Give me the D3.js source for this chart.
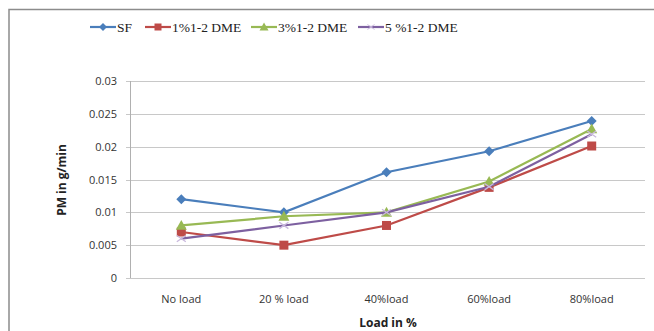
<!DOCTYPE html>
<html>
<head>
<meta charset="utf-8">
<script src="https://cdn.jsdelivr.net/npm/d3@7"></script>
<style>
  body { margin: 0; background: #fff; }
  svg { display: block; }
</style>
</head>
<body>
<div id="chart"></div>
<script>
'use strict';

var categories = ['No load', '20 % load', '40%load', '60%load', '80%load'];
var seriesNames = ['SF', '1%1-2 DME', '3%1-2 DME', '5 %1-2 DME'];
var sf    = [0.012, 0.010, 0.0161, 0.0193, 0.0239];
var dme1  = [0.007, 0.005, 0.008, 0.0138, 0.0201];
var dme3  = [0.008, 0.0094, 0.010, 0.0147, 0.0227];
var dme5  = [0.006, 0.008, 0.010, 0.0139, 0.0219];
var yTicks = [0, 0.005, 0.01, 0.015, 0.02, 0.025, 0.03];

var colors = ['#4a7ebb', '#be4b48', '#98b954', '#7d60a0'];
var shapes = ['diamond', 'square', 'triangle', 'cross'];
var series = [sf, dme1, dme3, dme5].map(function (v, i) {
  return { name: seriesNames[i], values: v, color: colors[i], shape: shapes[i] };
});

var width = 654, height = 331;
var plot = { left: 130, right: 643, top: 81, bottom: 278 };

var svg = d3.select('#chart').append('svg')
    .attr('width', width)
    .attr('height', height);

// outer chart border
svg.append('path')
    .attr('d', 'M9,' + height + ' V9.5 H' + width)
    .attr('fill', 'none')
    .attr('stroke', '#8c8c8c')
    .attr('stroke-width', 1.5);

var x = d3.scaleBand().domain(categories).range([plot.left, plot.right]);
var y = d3.scaleLinear().domain([0, 0.03]).range([plot.bottom, plot.top]);
var cx = function (c) { return x(c) + x.bandwidth() / 2; };

// gridlines
svg.append('g')
    .selectAll('line')
    .data(yTicks)
    .enter()
    .append('line')
    .attr('x1', plot.left - 4)
    .attr('x2', plot.right + 2)
    .attr('y1', function (d) { return Math.round(y(d)) + 0.5; })
    .attr('y2', function (d) { return Math.round(y(d)) + 0.5; })
    .attr('stroke', '#c8c8c8')
    .attr('stroke-width', 1.2);

// y axis line
svg.append('line')
    .attr('x1', plot.left + 0.5).attr('x2', plot.left + 0.5)
    .attr('y1', plot.top).attr('y2', plot.bottom)
    .attr('stroke', '#b0b0b0');

var tickFont = '"Open Sans", "Liberation Sans", sans-serif';

svg.append('g')
    .selectAll('text')
    .data(yTicks)
    .enter()
    .append('text')
    .attr('x', 117)
    .attr('y', function (d) { return y(d) + 4; })
    .attr('text-anchor', 'end')
    .attr('font-family', tickFont)
    .attr('font-size', 11)
    .attr('fill', '#333')
    .text(function (d) { return d === 0 ? '0' : String(+d.toFixed(3)); });

svg.append('g')
    .selectAll('text')
    .data(categories)
    .enter()
    .append('text')
    .attr('x', cx)
    .attr('y', 303)
    .attr('text-anchor', 'middle')
    .attr('font-family', tickFont)
    .attr('font-size', 11)
    .attr('fill', '#333')
    .text(function (d) { return d; });

// axis titles
svg.append('text')
    .attr('transform', 'translate(66,180) rotate(-90)')
    .attr('text-anchor', 'middle')
    .attr('font-family', tickFont)
    .attr('font-weight', 'bold')
    .attr('font-size', 12)
    .attr('fill', '#222')
    .text('PM in g/min');

svg.append('text')
    .attr('x', 388)
    .attr('y', 327)
    .attr('text-anchor', 'middle')
    .attr('font-family', tickFont)
    .attr('font-weight', 'bold')
    .attr('font-size', 12)
    .attr('fill', '#222')
    .text('Load in %');

var line = d3.line()
    .x(function (d, i) { return cx(categories[i]); })
    .y(function (d) { return y(d); });

// marker outline for a given half-size r
function markerPath(shape, r) {
  if (shape === 'diamond') {
    return 'M0,' + (-r) + 'L' + r + ',0L0,' + r + 'L' + (-r) + ',0Z';
  }
  if (shape === 'square') {
    return 'M' + (-r) + ',' + (-r) + 'H' + r + 'V' + r + 'H' + (-r) + 'Z';
  }
  if (shape === 'triangle') {
    return 'M0,' + (-r) + 'L' + r + ',' + (r * 0.8) + 'L' + (-r) + ',' + (r * 0.8) + 'Z';
  }
  return 'M' + (-r) + ',' + (-r * 0.7) + 'L' + r + ',' + (r * 0.7) +
         'M' + (-r) + ',' + (r * 0.7) + 'L' + r + ',' + (-r * 0.7);
}
var markerSize = { diamond: 5, square: 4.5, triangle: 5.5, cross: 4.5 };

var groups = svg.append('g')
    .selectAll('g')
    .data(series)
    .enter()
    .append('g');

groups.append('path')
    .attr('d', function (s) { return line(s.values); })
    .attr('fill', 'none')
    .attr('stroke', function (s) { return s.color; })
    .attr('stroke-width', 2.2);

groups.each(function (s) {
  d3.select(this).selectAll('path.marker')
      .data(s.values)
      .enter()
      .append('path')
      .attr('class', 'marker')
      .attr('transform', function (d, i) {
        return 'translate(' + cx(categories[i]) + ',' + y(d) + ')';
      })
      .attr('d', markerPath(s.shape, markerSize[s.shape]))
      .attr('fill', s.color)
      .attr('stroke', s.shape === 'cross' ? '#c9b8dd' : 'none')
      .attr('stroke-width', 1.3);
});

// legend
var legendX = [90, 145, 251, 358];
var legend = svg.append('g')
    .selectAll('g')
    .data(series)
    .enter()
    .append('g')
    .attr('transform', function (s, i) { return 'translate(' + legendX[i] + ',27)'; });

legend.append('line')
    .attr('x1', 0).attr('x2', 26)
    .attr('stroke', function (s) { return s.color; })
    .attr('stroke-width', 2.2);

legend.append('path')
    .attr('transform', 'translate(13,0)')
    .attr('d', function (s) { return markerPath(s.shape, markerSize[s.shape] - 1); })
    .attr('fill', function (s) { return s.color; })
    .attr('stroke', function (s) { return s.shape === 'cross' ? '#c9b8dd' : 'none'; });

legend.append('text')
    .attr('x', 27)
    .attr('y', 4.5)
    .attr('font-family', '"Liberation Serif", "DejaVu Serif", serif')
    .attr('font-size', 13.5)
    .attr('fill', '#222')
    .text(function (s) { return s.name; });
</script>
</body>
</html>
